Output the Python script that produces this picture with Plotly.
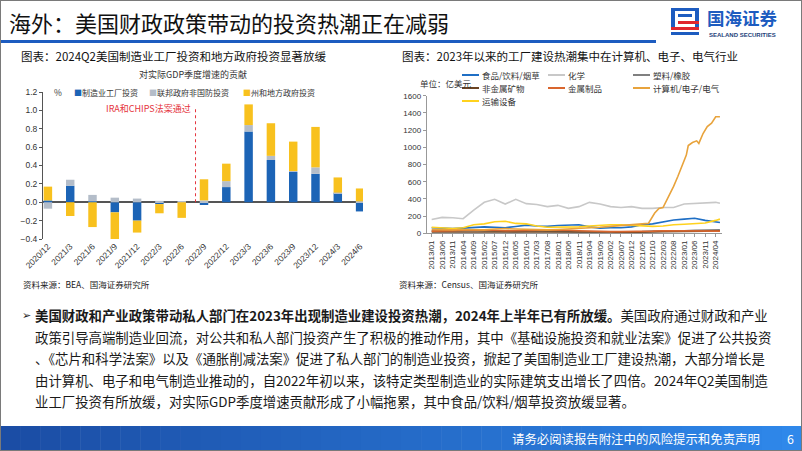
import plotly.graph_objects as go

W, H = 802, 451


def fx(x):
    return x / W


def fy(y):
    return 1 - y / H


# ---- left chart: contribution to real GDP q/q growth (%)
quarters = ["2020/12", "2021/3", "2021/6", "2021/9", "2021/12", "2022/3", "2022/6", "2022/9",
            "2022/12", "2023/3", "2023/6", "2023/9", "2023/12", "2024/3", "2024/6"]
manuf_factory = [0.02, 0.18, 0.01, -0.11, -0.20, -0.02, 0.00, -0.03, 0.165, 0.77, 0.46, 0.33, 0.31, 0.10, -0.10]
federal_nondefense = [-0.07, 0.065, 0.07, 0.05, 0.04, 0.015, 0.01, 0.02, 0.065, 0.07, 0.045, 0.01, 0.07, 0.005, 0.01]
state_local = [0.15, -0.15, -0.27, -0.29, -0.13, -0.10, -0.17, 0.23, 0.19, 0.225, 0.355, 0.32, 0.44, 0.165, 0.14]
bar_names = ["制造业工厂投资", "联邦政府非国防投资", "州和地方政府投资"]
bar_colors = ["#1C64B6", "#B4BDC9", "#F8C11E"]
ira_pos = 6.62  # between 2022/6 and 2022/9

# ---- right chart: manufacturing construction spending (亿美元)
months = ["2013-01", "2013-06", "2013-11", "2014-04", "2014-09", "2015-02", "2015-07", "2015-12",
          "2016-05", "2016-10", "2017-03", "2017-08", "2018-01", "2018-06", "2018-11", "2019-04",
          "2019-09", "2020-02", "2020-07", "2020-12", "2021-05", "2021-10", "2022-03", "2022-08",
          "2023-01", "2023-06", "2023-11", "2024-04", "2024-06"]
food = [65, 60, 55, 60, 70, 75, 70, 65, 80, 95, 85, 80, 90, 95, 100, 75, 60, 65, 65, 75,
        100, 110, 130, 155, 165, 175, 150, 135, 125]
chemical = [160, 185, 180, 170, 270, 360, 395, 340, 395, 345, 335, 310, 325, 290, 310, 360, 340, 310, 300, 310,
            290, 290, 300, 300, 340, 345, 350, 360, 350]
plastic = [30, 25, 30, 35, 40, 30, 25, 25, 20, 25, 30, 25, 20, 20, 15, 15, 15, 15, 20, 20,
           20, 25, 25, 30, 30, 35, 40, 40, 40]
nonmetal = [15, 15, 15, 15, 15, 15, 20, 20, 20, 20, 15, 15, 20, 20, 20, 15, 15, 15, 10, 10,
            15, 15, 20, 20, 25, 25, 25, 30, 30]
metal = [25, 25, 30, 35, 35, 40, 35, 30, 30, 35, 35, 40, 40, 35, 30, 25, 25, 20, 20, 20,
         20, 25, 30, 30, 30, 25, 25, 25, 25]
transport = [70, 65, 55, 65, 100, 110, 135, 140, 115, 110, 85, 70, 70, 70, 75, 85, 95, 100, 100, 95,
             85, 80, 85, 100, 105, 110, 120, 150, 165]
comp_months = ["2013-01", "2013-06", "2013-11", "2014-04", "2014-09", "2015-02", "2015-07", "2015-12",
               "2016-05", "2016-10", "2017-03", "2017-08", "2018-01", "2018-06", "2018-11", "2019-04",
               "2019-09", "2020-02", "2020-07", "2020-12", "2021-05", "2021-08", "2021-11", "2022-01",
               "2022-03", "2022-06", "2022-08", "2022-10", "2022-12", "2023-02", "2023-03", "2023-05",
               "2023-07", "2023-08", "2023-10", "2023-12", "2024-02", "2024-04", "2024-06"]
computer = [45, 40, 40, 45, 40, 40, 50, 55, 50, 45, 40, 40, 45, 50, 55, 60, 70, 80, 90, 100,
            110, 115, 235, 290, 300, 445, 545, 660, 790, 910, 1020, 1055, 1075, 1045, 1160, 1240, 1280, 1355, 1355]

line_names = ["食品/饮料/烟草", "化学", "塑料/橡胶", "非金属矿物", "金属制品", "计算机/电子/电气", "运输设备"]
line_colors = ["#1F6FC5", "#C8C8C8", "#808080", "#6B4423", "#D9662E", "#E8A33C", "#FFD21E"]

fig = go.Figure()

for vals, name, color in zip([manuf_factory, federal_nondefense, state_local], bar_names, bar_colors):
    fig.add_trace(go.Bar(x=quarters, y=vals, name=name, marker_color=color, marker_line_width=0,
                         width=0.38, showlegend=False, xaxis="x", yaxis="y"))

series = [food, chemical, plastic, nonmetal, metal, computer, transport]
draw_order = [1, 2, 3, 4, 0, 6, 5]
for i in draw_order:
    xs = comp_months if i == 5 else months
    fig.add_trace(go.Scatter(x=xs, y=series[i], mode="lines", name=line_names[i],
                             line=dict(color=line_colors[i], width=1.6), showlegend=False,
                             xaxis="x2", yaxis="y2"))

tickfont = dict(family="Liberation Sans", size=8.5, color="#333")
fig.update_layout(
    width=W, height=H, margin=dict(l=0, r=0, t=0, b=0, pad=0),
    paper_bgcolor="white", plot_bgcolor="white",
    barmode="relative",
    font=dict(family="Noto Sans CJK SC", size=9, color="#333"),
    xaxis=dict(domain=[fx(43), fx(363)], anchor="y", type="category", range=[-0.22, 14.13],
               tickangle=-45, showline=False, ticks="", showgrid=False, tickfont=tickfont, automargin=False),
    yaxis=dict(domain=[fy(239), fy(92)], anchor="x", range=[-0.4, 1.2], dtick=0.2, tickformat=".1f",
               showline=True, linecolor="#555", ticks="outside", ticklen=3, tickcolor="#555",
               showgrid=False, zeroline=True, zerolinecolor="#555", zerolinewidth=1.5, tickfont=tickfont,
               automargin=False),
    xaxis2=dict(domain=[fx(426.7), fx(722)], anchor="y2", type="date",
                range=["2012-10-21", "2024-07-01"], tick0="2013-01-01", dtick="M5", tickformat="%Y/%m",
                tickangle=-90, showline=True, linecolor="#999", ticks="outside", ticklen=3, tickcolor="#999",
                showgrid=False, tickfont=dict(family="Liberation Sans", size=8, color="#333"), automargin=False),
    yaxis2=dict(domain=[fy(233.3), fy(95.7)], anchor="x2", range=[0, 1600], dtick=200,
                showline=True, linecolor="#999", ticks="outside", ticklen=3, tickcolor="#999",
                showgrid=False, zeroline=False, tickfont=dict(family="Liberation Sans", size=8, color="#333"),
                automargin=False),
)


def note(text, x, y, size=9, color="#333", anchor="left", family="Noto Sans CJK SC"):
    fig.add_annotation(text=text, x=fx(x), y=fy(y), xref="paper", yref="paper", xanchor=anchor,
                       yanchor="middle", showarrow=False, font=dict(size=size, color=color, family=family))


def rect(x0, y0, x1, y1, color):
    fig.add_shape(type="rect", xref="paper", yref="paper", x0=fx(x0), x1=fx(x1), y0=fy(y0), y1=fy(y1),
                  fillcolor=color, line=dict(width=0), layer="above")


# slide header
note("海外：美国财政政策带动的投资热潮正在减弱", 7, 22, size=22, color="#111")
rect(0, 40, 656, 43, "#1D5CC0")
# logo
rect(671, 8, 699, 11, "#1D5CC0")
rect(671, 8, 675, 30, "#1D5CC0")
rect(695, 8, 699, 30, "#1D5CC0")
rect(678, 14, 692, 17, "#1D5CC0")
rect(678, 21, 699, 24, "#E0262E")
rect(671, 27, 699, 30, "#E0262E")
rect(671, 32, 699, 35, "#1D5CC0")
note("<b>国海证券</b>", 705, 17, size=17.5, color="#1D5CC0")
note("<b>SEALAND SECURITIES</b>", 707, 35, size=6, color="#1D3F7A", family="Liberation Sans")

# left chart texts
note("图表：2024Q2美国制造业工厂投资和地方政府投资显著放缓", 19, 56, size=11.5, color="#111")
note("对实际GDP季度增速的贡献", 193, 74, size=9, anchor="center")
note("%", 52, 92, size=8.5)
for name, color, x in zip(bar_names, bar_colors, [72, 147, 241]):
    note('<span style="color:%s">■</span>%s' % (color, name), x, 92, size=8)
fig.add_shape(type="line", xref="x", yref="y", x0=ira_pos, x1=ira_pos, y0=0, y1=1.02,
              line=dict(color="#E5343D", width=1, dash="dot"))
note("IRA和CHIPS法案通过", 193, 108, size=9, color="#E5343D", anchor="right")
note("资料来源：BEA、国海证券研究所", 21, 284, size=8.5, color="#222")

# right chart texts
note("图表：2023年以来的工厂建设热潮集中在计算机、电子、电气行业", 400, 56, size=11.5, color="#111")
note("单位：亿美元", 418, 83, size=8.5)
leg_cols = [462, 548, 633]
leg_rows = [75, 88, 101]
for k, (name, color) in enumerate(zip(line_names, line_colors)):
    lx, ly = leg_cols[k % 3], leg_rows[k // 3]
    fig.add_shape(type="line", xref="paper", yref="paper", x0=fx(lx), x1=fx(lx + 17), y0=fy(ly), y1=fy(ly),
                  line=dict(color=color, width=2))
    note(name, lx + 18, ly, size=8.5)
note("资料来源：Census、国海证券研究所", 397, 284, size=8.5, color="#222")

# body text
note("➢", 20, 315, size=11, color="#222", family="DejaVu Sans")
body = [
    "<b>美国财政和产业政策带动私人部门在2023年出现制造业建设投资热潮，2024年上半年已有所放缓。</b>美国政府通过财政和产业",
    "政策引导高端制造业回流，对公共和私人部门投资产生了积极的推动作用，其中《基础设施投资和就业法案》促进了公共投资",
    "、《芯片和科学法案》以及《通胀削减法案》促进了私人部门的制造业投资，掀起了美国制造业工厂建设热潮，大部分增长是",
    "由计算机、电子和电气制造业推动的，自2022年初以来，该特定类型制造业的实际建筑支出增长了四倍。2024年Q2美国制造",
    "业工厂投资有所放缓，对实际GDP季度增速贡献形成了小幅拖累，其中食品/饮料/烟草投资放缓显著。",
]
for i, line in enumerate(body):
    note(line, 33, 315 + i * 21.6, size=13.4, color="#1A1A1A")

# footer band with gradient
c0, c1 = (27, 77, 165), (47, 136, 234)
steps = 40
for s in range(steps):
    t = s / (steps - 1)
    col = "rgb(%d,%d,%d)" % tuple(int(a + (b - a) * t) for a, b in zip(c0, c1))
    rect(W * s / steps, 426, W * (s + 1) / steps + 0.5, 451, col)
note("请务必阅读报告附注中的风险提示和免责声明", 762, 439, size=12.4, color="white", anchor="right")
note("6", 790, 439, size=12.4, color="white", anchor="center")

# slide frame
fig.add_shape(type="rect", xref="paper", yref="paper", x0=0, x1=1, y0=0, y1=1,
              line=dict(color="#7A7A7A", width=2), layer="above")

fig.write_html("out.html", config={"displayModeBar": False},
               post_script="document.body.style.margin='0';")
